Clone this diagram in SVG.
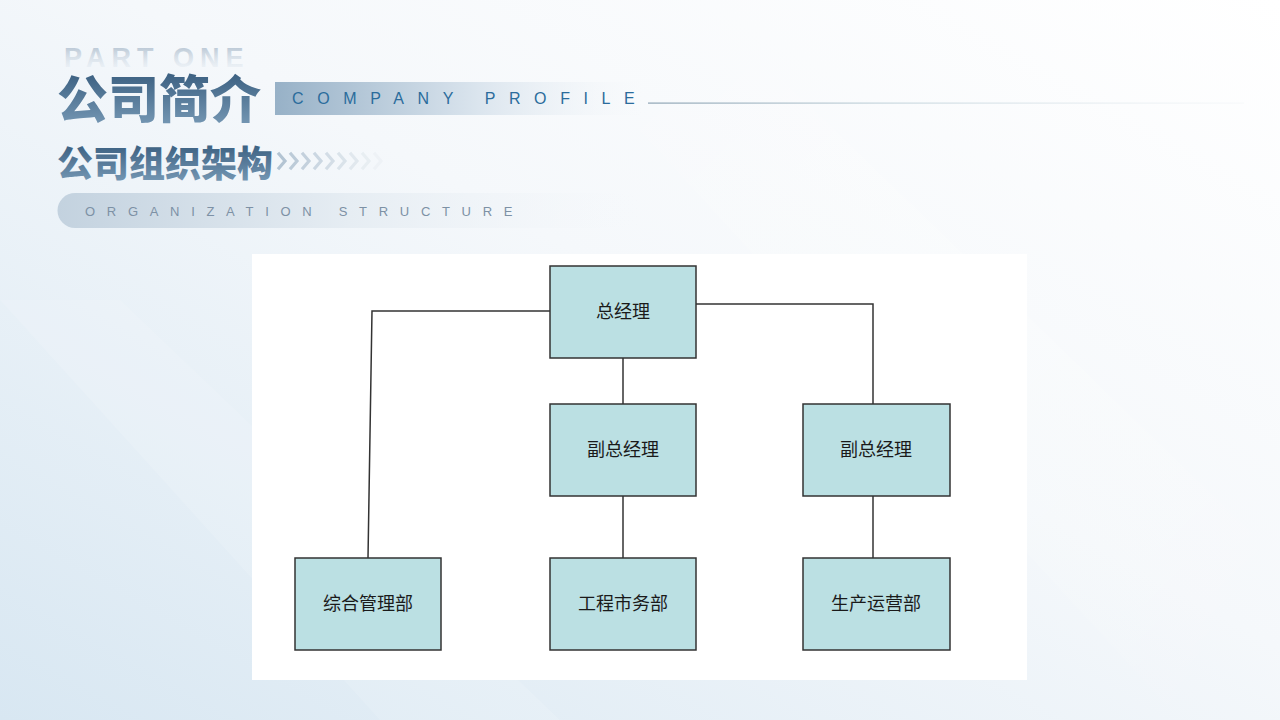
<svg xmlns="http://www.w3.org/2000/svg" width="1280" height="720" viewBox="0 0 1280 720">
  <defs>
    <linearGradient id="bg" x1="1" y1="0" x2="0" y2="1">
      <stop offset="0" stop-color="#ffffff"/>
      <stop offset="0.45" stop-color="#f5f8fb"/>
      <stop offset="1" stop-color="#d8e7f2"/>
    </linearGradient>
    <linearGradient id="streak" x1="0" y1="0" x2="1" y2="1">
      <stop offset="0" stop-color="#ffffff" stop-opacity="0"/>
      <stop offset="0.5" stop-color="#ffffff" stop-opacity="0.35"/>
      <stop offset="1" stop-color="#ffffff" stop-opacity="0"/>
    </linearGradient>
    <linearGradient id="titleFill" x1="0" y1="0" x2="0" y2="1">
      <stop offset="0" stop-color="#2d5274"/>
      <stop offset="1" stop-color="#7d9fbb"/>
    </linearGradient>
    <linearGradient id="ghostFill" x1="0" y1="0" x2="0" y2="1">
      <stop offset="0" stop-color="#9fb1c3" stop-opacity="0.85"/>
      <stop offset="1" stop-color="#e6edf4" stop-opacity="0.2"/>
    </linearGradient>
    <linearGradient id="bandFill" x1="0" y1="0" x2="1" y2="0">
      <stop offset="0" stop-color="#97b1c7"/>
      <stop offset="0.55" stop-color="#dbe5ee"/>
      <stop offset="1" stop-color="#f4f7fa" stop-opacity="0"/>
    </linearGradient>
    <linearGradient id="pillFill" x1="0" y1="0" x2="1" y2="0">
      <stop offset="0" stop-color="#c3d2df"/>
      <stop offset="0.5" stop-color="#e6edf3"/>
      <stop offset="1" stop-color="#f4f7fa" stop-opacity="0"/>
    </linearGradient>
    <linearGradient id="ruleFill" x1="0" y1="0" x2="1" y2="0">
      <stop offset="0" stop-color="#8ea4b4"/>
      <stop offset="0.4" stop-color="#c9d8df"/>
      <stop offset="1" stop-color="#eef2f5" stop-opacity="0.4"/>
    </linearGradient>
    <style>
      .node rect { fill: #bbe0e3; stroke: #333333; stroke-width: 1.5; }
      .node text { font-family: "Noto Sans CJK SC", "Noto Sans", sans-serif; font-size: 18px; fill: #1a1a1a; text-anchor: middle; dominant-baseline: central; }
      .links path { fill: none; stroke: #333333; stroke-width: 1.5; }
      .title { font-family: "Noto Sans CJK SC", "Noto Sans", sans-serif; font-weight: 900; fill: url(#titleFill); }
      .latin { font-family: "Liberation Sans", Arial, sans-serif; }
    </style>
  </defs>

  <!-- page background -->
  <rect x="0" y="0" width="1280" height="720" fill="url(#bg)"/>
  <polygon points="520,0 700,0 1280,560 1280,720 1180,720" fill="url(#streak)" opacity="0.6"/>
  <polygon points="0,300 120,300 560,720 380,720" fill="#ffffff" opacity="0.12"/>

  <!-- heading block -->
  <g id="heading">
    <text x="64" y="67" class="latin" font-size="27" font-weight="700" letter-spacing="6" fill="url(#ghostFill)">PART ONE</text>
    <text x="57" y="118" class="title" font-size="51">公司简介</text>
    <rect x="275" y="82" width="370" height="33" fill="url(#bandFill)"/>
    <text x="292" y="104" class="latin" font-size="16" letter-spacing="13.6" fill="#2b6c9c">COMPANY PROFILE</text>
    <rect x="648" y="102.5" width="596" height="1.2" fill="url(#ruleFill)"/>
  </g>

  <g id="subheading">
    <text x="57" y="177" class="title" font-size="36">公司组织架构</text>
    <g id="chevrons" fill="none" stroke-width="3.2" stroke-linecap="square">
      <path d="M279,154 l6,7 l-6,7" stroke="#b3c4d3"/>
      <path d="M291,154 l6,7 l-6,7" stroke="#bccbd8"/>
      <path d="M303,154 l6,7 l-6,7" stroke="#c4d1dd"/>
      <path d="M315,154 l6,7 l-6,7" stroke="#cbd7e2"/>
      <path d="M327,154 l6,7 l-6,7" stroke="#d3dde6"/>
      <path d="M339,154 l6,7 l-6,7" stroke="#dae3ea"/>
      <path d="M351,154 l6,7 l-6,7" stroke="#e1e8ee"/>
      <path d="M363,154 l6,7 l-6,7" stroke="#e8eef2"/>
      <path d="M375,154 l6,7 l-6,7" stroke="#eef2f6"/>
    </g>
    <path d="M75,193 H640 V228 H75 A17.5,17.5 0 0 1 75,193 Z" fill="url(#pillFill)"/>
    <text x="85" y="216" class="latin" font-size="13" letter-spacing="11.7" fill="#7d91a5">ORGANIZATION STRUCTURE</text>
  </g>

  <!-- chart panel -->
  <rect id="panel" x="252" y="254" width="775" height="426" fill="#ffffff"/>

  <!-- connectors -->
  <g class="links" id="connectors">
    <path d="M550,311 H372 L368,558"/>
    <path d="M696,304 H873 V404"/>
    <path d="M623,358 V404"/>
    <path d="M623,496 V558"/>
    <path d="M873,496 V558"/>
  </g>

  <!-- nodes -->
  <g class="node" id="ceo">
    <rect x="550" y="266" width="146" height="92"/>
    <text x="623" y="310">总经理</text>
  </g>
  <g class="node" id="vp-mid">
    <rect x="550" y="404" width="146" height="92"/>
    <text x="623" y="448">副总经理</text>
  </g>
  <g class="node" id="vp-right">
    <rect x="803" y="404" width="147" height="92"/>
    <text x="876" y="448">副总经理</text>
  </g>
  <g class="node" id="dept-admin">
    <rect x="295" y="558" width="146" height="92"/>
    <text x="368" y="602">综合管理部</text>
  </g>
  <g class="node" id="dept-eng">
    <rect x="550" y="558" width="146" height="92"/>
    <text x="623" y="602">工程市务部</text>
  </g>
  <g class="node" id="dept-ops">
    <rect x="803" y="558" width="147" height="92"/>
    <text x="876" y="602">生产运营部</text>
  </g>
</svg>
